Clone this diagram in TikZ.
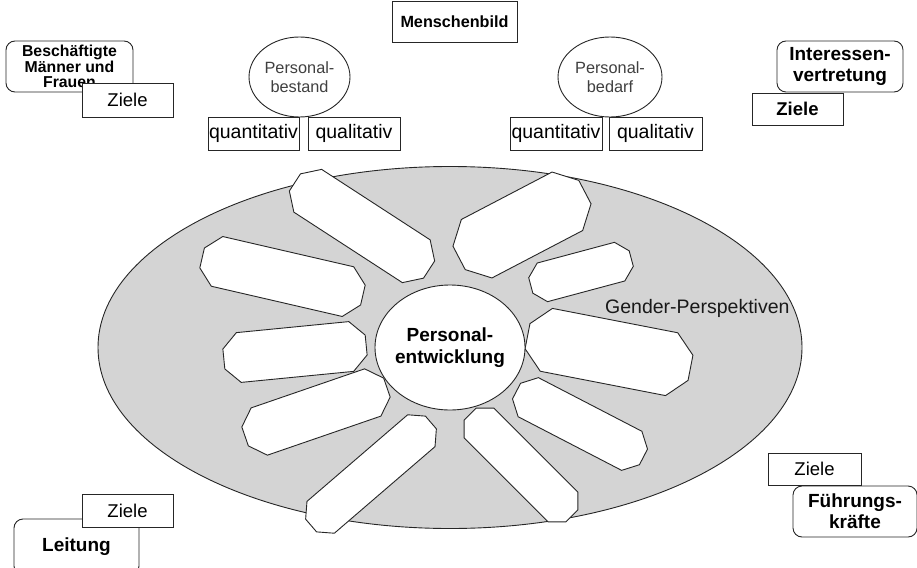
\documentclass[tikz,border=0pt]{standalone}
\usepackage{fontspec}
\setmainfont{Liberation Sans}
\usetikzlibrary{shapes.geometric}
\newcommand\fsz[2]{\fontsize{#1pt}{#2pt}\selectfont}
\tikzset{
  ln/.style={draw=black!85, line width=0.9pt},
  box/.style={ln, fill=white, inner sep=0pt, align=center},
  rbox/.style={box, rounded corners=9pt},
  oval/.style={ln, fill=white, ellipse, inner sep=0pt},
  lbl/.style={inner sep=0pt, align=center},
  pics/petal/.style 2 args={code={
    \pgfmathsetmacro\pl{#1/2}
    \pgfmathsetmacro\pw{#2/2}
    \pgfmathsetmacro\pc{0.3*#2}
    \draw[ln, fill=white] (-\pl+\pc,-\pw) -- (\pl-\pc,-\pw) -- (\pl,-\pw+\pc) -- (\pl,\pw-\pc)
      -- (\pl-\pc,\pw) -- (-\pl+\pc,\pw) -- (-\pl,\pw-\pc) -- (-\pl,-\pw+\pc) -- cycle;
  }}
}
\begin{document}
\begin{tikzpicture}[x=1pt,y=-1pt]
\useasboundingbox (0,0) rectangle (917,567);

% big ellipse
\node[ln, fill=black!17, ellipse, inner sep=0pt, minimum width=704pt, minimum height=362pt] (gp) at (450,347.5) {};
\node[lbl, anchor=base west, font=\fsz{19.5}{22}, text=black!90] (gpt) at (605,313.5) {Gender-Perspektiven};

% petals
\pic[rotate=-33]  at (362,226)   {petal={160}{51}};
\pic[rotate=-13]  at (282.5,276.5) {petal={165}{51}};
\pic[rotate=5.6]  at (295,352)   {petal={143}{50}};
\pic[rotate=19]   at (316,412)   {petal={150}{50}};
\pic[rotate=40.7] at (371,474)   {petal={158}{42}};
\pic[rotate=-45]  at (521,465)   {petal={144}{42}};
\pic[rotate=-27.4] at (580,424)  {petal={143}{44}};
\pic[rotate=-11]  at (609,352)   {petal={166}{64}};
\pic[rotate=15]   at (581,272)   {petal={104}{40}};
\pic[rotate=27.6] at (522,225)   {petal={142}{66}};

% centre
\node[oval, minimum width=150pt, minimum height=125pt] (pe) at (450,347.5) {};
\node[lbl, font=\fsz{19}{22}\bfseries] (pet) at (pe.center) {Personal-\\entwicklung};

% top
\node[box, minimum width=125pt, minimum height=41pt, font=\fsz{16.2}{18}\bfseries] (mb) at (454.5,21.5) {Menschenbild};

\node[oval, minimum width=101pt, minimum height=80pt] (pb) at (299.5,77) {};
\node[lbl, font=\fsz{16.3}{19}, text=black!75] (pbt) at (pb.center) {Personal-\\bestand};
\node[oval, minimum width=104pt, minimum height=80pt] (pd) at (610,77) {};
\node[lbl, font=\fsz{16.3}{19}, text=black!75] (pdt) at (pd.center) {Personal-\\bedarf};

\node[box, minimum width=91pt, minimum height=33pt, font=\fsz{19.5}{22}] (q1) at (253.5,133.5) {quantitativ};
\node[box, minimum width=92pt, minimum height=33pt, font=\fsz{19.5}{22}] (l1) at (354,133.5) {qualitativ};
\node[box, minimum width=92pt, minimum height=33pt, font=\fsz{19.5}{22}] (q2) at (556,133.5) {quantitativ};
\node[box, minimum width=93pt, minimum height=33pt, font=\fsz{19.5}{22}] (l2) at (655.5,133.5) {qualitativ};

% corners
\node[rbox, minimum width=127pt, minimum height=51pt, font=\fsz{15.8}{15.7}\bfseries] (bmf) at (69.5,66.5) {Beschäftigte\\Männer und\\Frauen};
\node[box, minimum width=91pt, minimum height=34pt, font=\fsz{18.5}{20}] (z1) at (127.5,100) {Ziele};

\node[rbox, minimum width=126pt, minimum height=51pt, font=\fsz{19}{21}\bfseries] (iv) at (840,66.5) {Interessen-\\vertretung};
\node[box, minimum width=91pt, minimum height=32pt, font=\fsz{18.5}{20}\bfseries] (z2) at (797.5,109) {Ziele};

\node[rbox, minimum width=125pt, minimum height=56pt, font=\fsz{19}{21}\bfseries] (lt) at (76.5,547) {Leitung};
\node[box, minimum width=91pt, minimum height=33pt, font=\fsz{18.5}{20}] (z3) at (127.5,510.5) {Ziele};

\node[box, minimum width=93pt, minimum height=32pt, font=\fsz{18.5}{20}] (z4) at (814.5,469) {Ziele};
\node[rbox, minimum width=124pt, minimum height=51pt, font=\fsz{19}{21}\bfseries] (fk) at (855,511.5) {Führungs-\\kräfte};
\end{tikzpicture}
\end{document}
